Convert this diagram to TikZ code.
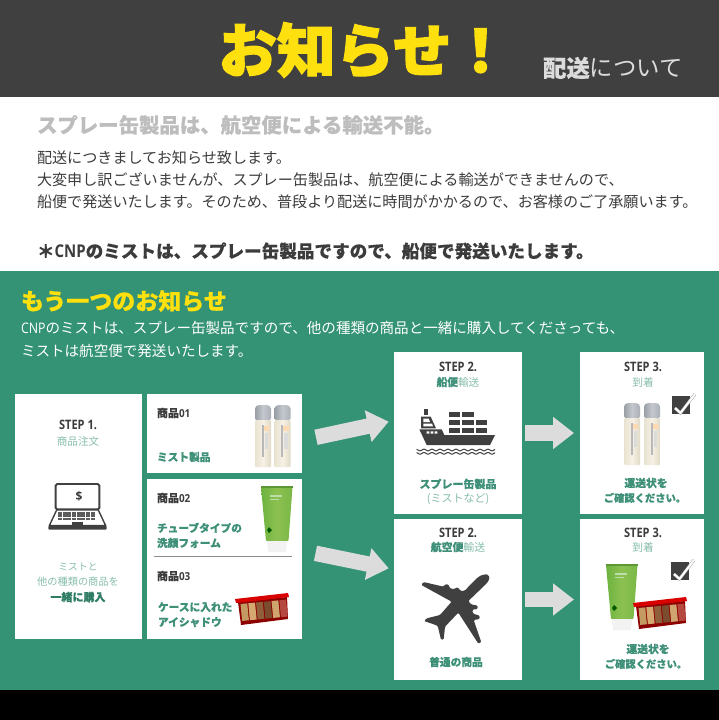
\documentclass[tikz,border=0pt]{standalone}
\usepackage{graphicx}
\usepackage{fontspec}
\usetikzlibrary{arrows.meta}
\setmainfont[BoldFeatures={FakeBold=0.25}]{Noto Sans CJK JP}
\newfontfamily\heavy[BoldFeatures={FakeBold=2.2}]{Noto Sans CJK JP}
\newfontfamily\latn{Open Sans}
\definecolor{bandgray}{HTML}{404040}
\definecolor{sheet}{HTML}{339374}
\definecolor{sun}{HTML}{FFE00F}
\definecolor{soft}{HTML}{DCDCDC}
\definecolor{faint}{HTML}{BDBDBD}
\definecolor{ink}{HTML}{3C3C3C}
\definecolor{gtext}{HTML}{3E9078}
\definecolor{glite}{HTML}{86BDAB}
\definecolor{gdeep}{HTML}{2E7C64}
\definecolor{capdark}{HTML}{9A9FA6}
\definecolor{capmid}{HTML}{C4C8CE}
\definecolor{capright}{HTML}{ABB0B6}
\definecolor{bodyl}{HTML}{E8E2D0}
\definecolor{bodym}{HTML}{F6F1E5}
\definecolor{bodyr}{HTML}{E0D9C6}
\definecolor{tubeA}{HTML}{6DB33F}
\definecolor{tubeB}{HTML}{8CC152}
\definecolor{tubeC}{HTML}{79B846}
\newcommand{\TL}[6]{\node[lab,anchor=west,text=#5,font=\fontsize{#4}{#4}\selectfont] (#1) at (#2,#3) {\rule[-.12em]{0pt}{1em}#6};}
\newcommand{\TC}[6]{\node[lab,anchor=center,text=#5,font=\fontsize{#4}{#4}\selectfont] (#1) at (#2,#3) {\rule[-.12em]{0pt}{1em}#6};}
\newcommand{\hx}[2]{\scalebox{#1}[1]{#2}}
\newcommand{\steplbl}[1]{{\latn\bfseries\hx{0.85}{#1}}}
\tikzset{
  lab/.style={inner sep=0pt,outer sep=0pt},
  panel/.style={fill=white,draw=none,inner sep=0pt,outer sep=0pt},
  flow/.style={draw=soft,line width=15.5pt,-{Triangle[length=21pt,width=31pt]},line cap=butt},
  bottle/.pic={
    \shade[left color=capdark,right color=capright,middle color=capmid,rounded corners=1.5pt] (0,15) -- (0,2) -- (3,0) -- (13,0) -- (16,2) -- (16,15) -- cycle;
    \shade[left color=bodyl,right color=bodyr,middle color=bodym,rounded corners=1pt] (0,15) rectangle (16,62);
    \fill[black!28] (6.5,20) rectangle (8.5,52);
    \fill[orange!30] (8.5,21) rectangle (14,26);
    \fill[black!14] (9.5,28) rectangle (13,44);
  },
  tube/.pic={
    \shade[left color=tubeA,right color=tubeC,middle color=tubeB,rounded corners=1pt] (0,1) -- (31.5,1) -- (27.5,55) -- (5,55) -- cycle;
    \fill[tubeA!85!black] (0,0) rectangle (31.5,2);
    \fill[green!35!black] (8,41) -- (11,44) -- (8,47) -- (6,44) -- cycle;
    \fill[black!5] (6,55) -- (26,55) -- (25,66) -- (7,66) -- cycle;
    \fill[white!55!tubeA] (9,9) rectangle (21,10.5);
    \fill[white!55!tubeA] (9,13) rectangle (18,14);
  },
  palette/.pic={
    \fill[red!55!black] (3,9) -- (52,4) -- (53,26) -- (6,32) -- cycle;
    \begin{scope}[shift={(5.5,11)},rotate=5.5]
      \foreach \k/\c in {0/C49A63,1/D4A870,2/8F5F3B,3/7C4C2E,4/D0A46E,5/B5483F}{
        \definecolor{swatch}{HTML}{\c}
        \fill[swatch] (\k*7.8,0) rectangle +(6.8,17);
      }
    \end{scope}
    \fill[red!85!black] (0,6) -- (53,0) -- (54,4) -- (1,10) -- cycle;
  },
  chk/.pic={
    \fill[bandgray] (0,0) rectangle (18,18);
    \draw[black!35,line width=3pt] (3,12) -- (8.5,17) -- (23,-2);
    \draw[white,line width=2pt] (3,12) -- (8.5,17) -- (23,-2);
  }
}
\begin{document}
\begin{tikzpicture}[x=1pt,y=-1pt]
\useasboundingbox (0,0) rectangle (719,720);
% bands
\fill[bandgray] (0,0) rectangle (719,97);
\fill[white] (0,97) rectangle (719,271);
\fill[sheet] (0,271) rectangle (719,690);
\fill[black] (0,690) rectangle (719,720);
% header
\TL{title}{218.5}{50}{58.5}{sun}{\heavy\bfseries お知らせ！}
\TL{sub}{543}{68}{23.4}{soft}{\textbf{配送}について}
% notice
\TL{nhead}{37}{125}{20.4}{faint}{\textbf{スプレー缶製品は、航空便による輸送不能。}}
\TL{n1}{37}{158}{15.1}{ink}{配送につきましてお知らせ致します。}
\TL{n2}{37}{180}{15.1}{ink}{大変申し訳ございませんが、スプレー缶製品は、航空便による輸送ができませんので、}
\TL{n3}{37}{202}{15.1}{ink}{船便で発送いたします。そのため、普段より配送に時間がかかるので、お客様のご了承願います。}
\TL{n4}{37}{251}{17.6}{ink}{\textbf{＊{\latn\hx{0.85}{CNP}}のミストは、スプレー缶製品ですので、船便で発送いたします。}}
% green intro
\TL{ghead}{21}{301}{23}{sun}{\textbf{もう一つのお知らせ}}
\TL{g1}{21}{328}{14.55}{white}{{\latn\hx{0.85}{CNP}}のミストは、スプレー缶製品ですので、他の種類の商品と一緒に購入してくださっても、}
\TL{g2}{21}{351}{14.55}{white}{ミストは航空便で発送いたします。}
% panels
\node[panel,minimum width=127pt,minimum height=245pt] (order) at (78.5,516.5) {};
\node[panel,minimum width=155pt,minimum height=79pt] (mist) at (224.5,433.5) {};
\node[panel,minimum width=155pt,minimum height=160pt] (mixed) at (224.5,559) {};
\node[panel,minimum width=128pt,minimum height=162pt] (ship) at (458,433) {};
\node[panel,minimum width=128pt,minimum height=161pt] (air) at (458,599.5) {};
\node[panel,minimum width=124pt,minimum height=162pt] (arriveA) at (642,433) {};
\node[panel,minimum width=124pt,minimum height=161pt] (arriveB) at (642,599.5) {};
\draw[black!45,line width=.8pt] (154,556) -- (292,556);
% arrows
\draw[flow] ([shift={(14pt,-3.8pt)}]mist.east) -- ([shift={(-5.3pt,11.3pt)}]ship.west);
\draw[flow] ([shift={(13.5pt,5.7pt)}]mixed.east) -- ([shift={(-5.3pt,31.2pt)}]air.west);
\draw[flow] ([xshift=3pt]ship.east) -- ([xshift=-6pt]arriveA.west);
\draw[flow] ([xshift=3pt]air.east) -- ([xshift=-6pt]arriveB.west);
% step 1
\TC{s1}{78}{425}{13}{ink}{\steplbl{STEP 1.}}
\TC{s1b}{78}{441}{10.6}{glite}{商品注文}
\TC{s1c}{78}{567}{9.8}{glite}{ミストと}
\TC{s1d}{78}{582}{10.2}{glite}{他の種類の商品を}
\TC{s1e}{78}{597}{11}{gdeep}{\textbf{一緒に購入}}
% laptop
\begin{scope}[shift={(40,475)},scale=1/3]
  \draw[bandgray,line width=1.9pt,rounded corners=1.5pt,fill=white] (47,27) rectangle (178,103);
  \draw[bandgray,line width=1.4pt,fill=white] (50,105) -- (175,105) -- (197,152) -- (28,152) -- cycle;
  \fill[bandgray,rounded corners=1pt] (25,153) rectangle (200,164);
  \foreach \r in {0,1,2}{\foreach \q in {0,...,7}{
    \fill[bandgray!85] (54+\q*14,112+\r*8.5) rectangle +(12,6.5);}}
  \fill[bandgray] (95,140) rectangle (130,150);
  \node[lab,text=ink,font=\fontsize{12}{12}\selectfont\latn\bfseries] (dollar) at (117,63) {\$};
\end{scope}
% item texts
\TL{i1}{157}{413}{11}{ink}{\textbf{商品{\latn\hx{0.9}{01}}}}
\TL{i1b}{157}{457}{10.7}{gtext}{\textbf{ミスト製品}}
\TL{i2}{157}{498}{11}{ink}{\textbf{商品{\latn\hx{0.9}{02}}}}
\TL{i2b}{157}{528}{10.7}{gtext}{\textbf{チューブタイプの}}
\TL{i2c}{157}{543}{10.7}{gtext}{\textbf{洗顔フォーム}}
\TL{i3}{157}{576}{11}{ink}{\textbf{商品{\latn\hx{0.9}{03}}}}
\TL{i3b}{158}{607}{10.7}{gtext}{\textbf{ケースに入れた}}
\TL{i3c}{158}{622}{10.7}{gtext}{\textbf{アイシャドウ}}
\pic at (255,405) {bottle};
\pic at (274.5,405) {bottle};
\pic at (261,486) {tube};
\pic at (235,593) {palette};
% step 2 top
\TC{s2}{458}{367}{13}{ink}{\steplbl{STEP 2.}}
\TC{s2b}{458}{382}{10.7}{glite}{\textcolor{gtext}{\textbf{船便}}輸送}
\TC{s2c}{458}{484}{11}{gtext}{\textbf{スプレー缶製品}}
\TC{s2d}{458}{499}{11}{glite}{(ミストなど)}
% ship icon
\begin{scope}[shift={(410,400)},scale=1/3]
  \fill[bandgray] (43,28) rectangle (55,44);
  \fill[bandgray] (33,50) -- (62,50) -- (78,85) -- (33,85) -- cycle;
  \fill[white] (40,56) -- (56,56) -- (60,66) -- (40,66) -- cycle;
  \fill[white] (40,71) -- (66,71) -- (69,79) -- (40,79) -- cycle;
  \fill[bandgray] (28,88) -- (95,88) -- (103,105) -- (255,105) -- (240,135) -- (50,135) -- cycle;
  \fill[white] (50,94) rectangle (58,101) (62,94) rectangle (70,101) (74,94) rectangle (82,101);
  \foreach \yy in {37,60,83}{\foreach \xx in {117,157}{\fill[bandgray] (\xx,\yy) rectangle +(34,15);}}
  \foreach \yy in {60,83}{\fill[bandgray] (198,\yy) rectangle +(34,15);}
  \foreach \yy in {150,160}{
    \draw[bandgray,line width=1pt] plot[domain=20:255,samples=100] (\x,{\yy+2.5*sin(\x*15)});}
\end{scope}
% step 3 top
\TC{s3}{643}{367}{13}{ink}{\steplbl{STEP 3.}}
\TC{s3b}{643}{382}{10.7}{glite}{到着}
\pic at (624,403) {bottle};
\pic at (644,403) {bottle};
\pic at (672,396) {chk};
\TC{s3c}{646}{483}{10.8}{gtext}{\textbf{運送状を}}
\TC{s3d}{645}{498}{10.3}{gtext}{\textbf{ご確認ください。}}
% step 2 bottom
\TC{a2}{458}{533}{13}{ink}{\steplbl{STEP 2.}}
\TC{a2b}{458}{547}{10.9}{glite}{\textcolor{gtext}{\textbf{航空便}}輸送}
% plane icon
\begin{scope}[shift={(415,565)},scale=1/3]
  \fill[bandgray,rounded corners=1.2pt] (222,36) .. controls (218,24) and (198,28) .. (183,42) -- (148,78) -- (135,77)
   -- (131,68) -- (122,68) -- (118,73) -- (105,70) -- (100,58) -- (90,58) -- (86,65) -- (25,51) -- (19,60)
   -- (110,110) -- (75,150) -- (35,160) -- (27,168) -- (68,182) -- (78,224) -- (86,224) -- (90,185) -- (130,143)
   -- (190,236) -- (199,232) -- (176,165) -- (194,162) -- (194,152) -- (174,146) -- (172,134) -- (188,132) -- (188,122) -- (168,118) -- (160,108)
   -- (208,62) .. controls (218,52) and (224,44) .. (222,36) -- cycle;
\end{scope}
\TC{a2c}{456}{662}{10.7}{gtext}{\textbf{普通の商品}}
% step 3 bottom
\TC{b3}{643}{533}{13}{ink}{\steplbl{STEP 3.}}
\TC{b3b}{643}{547}{10.7}{glite}{到着}
\pic at (606,564) {tube};
\pic at (633,597) {palette};
\pic at (671,562) {chk};
\TC{b3c}{648}{649}{10.8}{gtext}{\textbf{運送状を}}
\TC{b3d}{646}{664}{10.3}{gtext}{\textbf{ご確認ください。}}
\end{tikzpicture}
\end{document}
